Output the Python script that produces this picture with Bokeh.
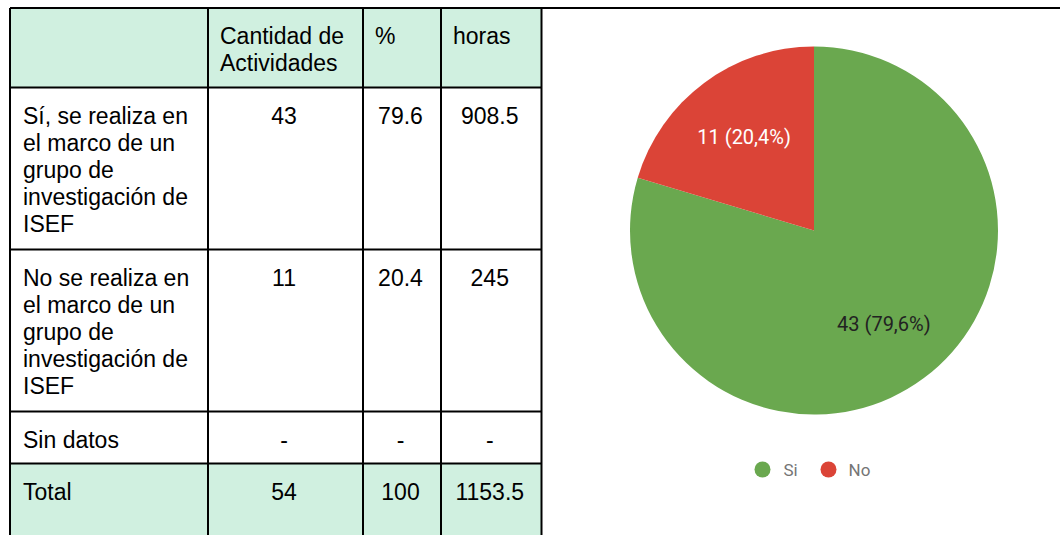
from bokeh.plotting import figure
from bokeh.models import Range1d, ColumnDataSource
from bokeh.core.properties import value
from bokeh.embed import file_html
from bokeh.resources import INLINE
import math

# ---------------- data ----------------
header = ["", "Cantidad de\nActividades", "%", "horas"]
row_labels = [
    "Sí, se realiza en\nel marco de un\ngrupo de\ninvestigación de\nISEF",
    "No se realiza en\nel marco de un\ngrupo de\ninvestigación de\nISEF",
    "Sin datos",
    "Total",
]
cantidad = ["43", "11", "-", "54"]
porcentaje = ["79.6", "20.4", "-", "100"]
horas = ["908.5", "245", "-", "1153.5"]

pie_labels = ["Si", "No"]
pie_values = [43, 11]
pie_colors = ["#6aa84f", "#db4437"]

# ---------------- layout (screen px of the reference) ----------------
W, H = 1060, 535
p = figure(width=W, height=H, x_range=Range1d(0, W), y_range=Range1d(-H, 0),
           output_backend="svg", toolbar_location=None, min_border=0)
p.axis.visible = False
p.grid.visible = False
p.outline_line_color = None
p.background_fill_color = "white"
p.border_fill_color = "white"

col_x = [9.5, 207.5, 362.5, 440.5, 541]
row_y = [7.5, 87, 249, 411, 463, 540]
MINT = "#d0f0e0"
FONT = value("Liberation Sans")
FS = "23px"
LH = 27.2
BASE = 28

# cell fills (header row and total row)
fill_rows = [0, 4]
p.quad(left=[col_x[0]] * 2, right=[col_x[-1]] * 2,
       top=[-row_y[r] for r in fill_rows], bottom=[-row_y[r + 1] for r in fill_rows],
       fill_color=MINT, line_color=None)

# grid lines
xs, ys = [], []
for x in col_x:
    xs.append([x, x]); ys.append([-row_y[0], -row_y[-1]])
for y in row_y[1:-1]:
    xs.append([col_x[0], col_x[-1]]); ys.append([-y, -y])
xs.append([col_x[0], 1060]); ys.append([-row_y[0], -row_y[0]])
p.multi_line(xs=xs, ys=ys, line_color="black", line_width=2)

# header texts
tx, ty, tt = [], [], []
for ci, h in enumerate(header):
    for li, line in enumerate(h.split("\n")):
        if line:
            tx.append(col_x[ci] + 12); ty.append(-(7 + BASE + li * LH)); tt.append(line)
for ri, lab in enumerate(row_labels):
    top = row_y[ri + 1]
    for li, line in enumerate(lab.split("\n")):
        tx.append(col_x[0] + 13); ty.append(-(top + BASE + li * LH)); tt.append(line)
p.text(x=tx, y=ty, text=tt, text_font=FONT, text_font_size=FS, text_color="#000000",
       text_align="left", text_baseline="alphabetic")

cx, cy, ct = [], [], []
for ci, col in enumerate([cantidad, porcentaje, horas]):
    center = (col_x[ci + 1] + col_x[ci + 2]) / 2 - 1.5
    for ri, v in enumerate(col):
        cx.append(center); cy.append(-(row_y[ri + 1] + BASE)); ct.append(v)
p.text(x=cx, y=cy, text=ct, text_font=FONT, text_font_size=FS, text_color="#000000",
       text_align="center", text_baseline="alphabetic")

# ---------------- pie ----------------
PX, PY, R = 813.5, -230, 184
total = sum(pie_values)
starts, ends, lx, ly, ltxt = [], [], [], [], []
cum = 0
for v in pie_values:
    a0 = math.radians(90 - cum / total * 360)
    cum += v
    a1 = math.radians(90 - cum / total * 360)
    starts.append(a1); ends.append(a0)
    mid = (a0 + a1) / 2
    lx.append(PX + 0.636 * R * math.cos(mid)); ly.append(PY + 0.636 * R * math.sin(mid))
    ltxt.append(f"{v} ({v / total * 100:.1f}%)".replace(".", ","))
src = ColumnDataSource(dict(start=starts, end=ends, color=pie_colors))
p.wedge(x=PX, y=PY, radius=R, start_angle="start", end_angle="end", direction="anticlock",
        fill_color="color", line_color=None, source=src)
p.text(x=lx, y=ly, text=ltxt, text_font=value("Roboto"), text_font_size="20px",
       text_color=["#222222", "#ffffff"], text_align="center", text_baseline="middle")

# legend
leg_dot_x = [762, 828]
leg_txt_x = [783, 848]
p.scatter(x=leg_dot_x, y=[-469] * 2, size=16, marker="circle", fill_color=pie_colors, line_color=None)
p.text(x=leg_txt_x, y=[-469] * 2, text=pie_labels, text_font=value("Roboto"), text_font_size="17px",
       text_color="#757575", text_align="left", text_baseline="middle")

open("out.html", "w").write(file_html(p, INLINE))
